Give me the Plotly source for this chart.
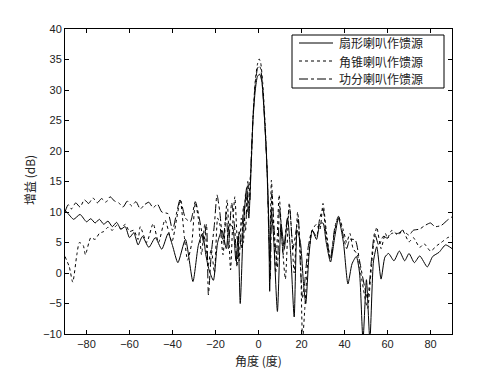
import plotly.graph_objects as go

# 扇形喇叭作馈源 (solid)
ang_s = [-90,-88,-86,-83,-80,-78,-76,-74,-72,-70,-68,-66,-64,-62,-60,-58,-56,-54,-51,-48,-45,-42,-40,-37.5,-34,-30.5,-28,-26,-24.5,-23,-21,-19,-17,-15,-13.5,-12,-10.5,-9.5,-8.5,-7,-5.5,-4.5,
         -3.5,-2.5,-1.5,-0.5,0.5,1.5,2.5,3.5,4.2,4.8,5.2,6,7,8.8,10.5,12,13.5,15,16.6,18,19.5,21,22,23.5,25,27,28.5,30,31.5,33.5,35.5,37.2,39.5,41.6,43.5,45.5,47,48.6,50.2,51.8,53.5,55,57,58.8,60.5,63,65.5,68,70,72.5,75,78.5,81,84,87,90]
gain_s = [10.3,9.5,8.8,9.6,8.4,8.9,8.2,8.8,8.0,8.5,7.6,8.3,7.2,7.6,5.8,6.6,4.6,6.0,4.2,5.8,3.9,6.5,4.5,1.7,5.5,-1.4,4.5,6.5,3.0,0.5,-1.2,5.0,7.0,4.0,8.0,7.5,2.0,6.0,-5.0,8.0,14.0,9.0,
          17.0,25.5,30.0,32.2,32.6,31.5,27.0,21.0,15.0,8.0,-3.0,10.0,6.0,-6.3,8.0,4.0,9.0,3.0,-7.2,7.0,5.0,-2.0,-5.0,3.0,7.0,5.5,8.0,8.2,5.0,1.8,6.0,9.0,5.0,-1.8,1.5,2.7,0.0,-11.0,-1.1,-11.0,2.0,4.3,-1.0,2.6,3.2,2.0,3.6,2.0,3.2,1.7,2.8,1.0,2.7,3.4,4.6,4.0]

# 角锥喇叭作馈源 (dotted)
ang_d = [-90,-88,-86.4,-84.5,-83.3,-81.5,-80.5,-78,-76,-74,-72,-70,-68,-66,-64,-62,-60,-58,-56,-55,-52,-49,-46.5,-43.5,-40.3,-38,-36.4,-34.5,-33,-31,-29.4,-28,-26.5,-25,-23.5,-22,-20.5,-19,-18,-16.5,-14.6,-13,-12,-11,-10,-9,-8,-7,-6,-5,-4,
         -3.5,-2.5,-1.5,-0.5,0.3,1,2,3,4,4.6,5.2,6,7,8,9.6,11,12.5,14.3,15.5,16.6,18.2,19.5,20.5,21.5,23,25,27,28.5,30,31.5,33.5,35.5,37.2,39.5,41,42.5,44,46,48,50.7,52.5,53.5,55,57,59,60,62,65,67,70,72,75,77,80,83,85,88,90]
gain_d = [2.7,1.0,-1.5,3.0,5.0,4.5,3.0,5.8,5.5,6.5,6.8,7.5,7.0,7.8,7.2,8.0,6.8,7.0,5.5,7.6,5.0,8.1,5.0,8.7,5.1,9.0,12.0,6.0,2.1,5.0,11.5,9.0,3.0,8.0,1.0,4.0,0.0,9.0,8.0,3.0,12.0,0.5,8.0,12.5,6.0,2.0,9.0,5.0,13.0,10.0,15.0,
          17.0,26.0,31.5,34.2,35.1,34.5,31.0,25.0,17.0,10.0,2.0,15.2,8.0,0.0,12.8,5.0,-1.0,11.5,6.0,0.0,10.0,3.0,-11.0,-6.0,2.0,7.0,8.0,7.0,11.4,7.0,2.2,7.0,9.2,7.0,5.0,6.5,4.0,3.0,-1.0,-5.8,1.0,4.6,7.5,4.0,6.5,5.7,7.0,6.2,7.0,5.1,5.8,4.2,4.8,3.6,4.5,5.0,5.8,6.0]

# 功分喇叭作馈源 (dash-dot)
ang_p = [-90,-88.5,-87,-85,-83,-81,-79,-77,-75,-73,-71,-69,-67,-65,-63,-61,-59,-57,-55,-53,-51,-49,-47,-45,-42,-40,-38,-36.4,-34,-31.7,-29.4,-27,-25.5,-24.2,-23.3,-22,-20.5,-19.3,-18,-16.5,-15,-14,-12.5,-11,-10,-9,-8,-7,-6,-5,-4,
         -3.5,-2.5,-1.5,-0.5,0.3,1,2,3,4,4.8,5.5,6.2,7.5,8.8,9.8,11.5,13,14.5,16,17.5,18.5,19.5,20.5,21.5,23,25,27,28.5,30,31.5,33.5,35.5,37.2,39.5,41,42.5,45,47,50.7,52.5,54,56,58,60,62,65,67,70,72,75,77,80,82,85,88,90]
gain_p = [10.0,11.2,10.5,11.5,10.8,12.0,11.4,12.3,11.5,12.2,11.6,12.5,11.8,11.5,10.8,11.8,11.0,11.7,10.5,11.2,11.6,10.7,11.3,10.0,9.7,7.0,10.0,12.1,9.0,8.4,11.7,8.0,5.0,8.0,-3.6,3.0,8.0,12.8,10.0,5.0,10.0,4.0,11.5,7.0,1.0,7.0,4.0,11.0,7.0,15.0,12.0,
          18.0,26.0,31.0,33.5,34.0,33.5,30.0,24.0,16.5,6.0,-1.0,13.0,6.0,1.0,11.0,3.0,8.0,10.5,4.0,7.0,9.0,1.0,-4.0,-1.5,4.0,7.0,6.0,9.0,10.5,6.0,2.5,7.5,9.3,6.0,4.0,5.5,5.4,2.0,-4.1,2.0,6.5,4.5,6.0,5.7,6.5,6.5,7.0,6.2,7.0,7.2,7.7,8.2,7.6,7.8,8.7,9.2]

names = ["扇形喇叭作馈源", "角锥喇叭作馈源", "功分喇叭作馈源"]
dashes = ["solid", "dot", "dashdot"]
x_ticks = [-80, -60, -40, -20, 0, 20, 40, 60, 80]
y_ticks = [-10, -5, 0, 5, 10, 15, 20, 25, 30, 35, 40]

# The page has an 8px body margin; work in page pixels and convert.
OFF = 8
W, H = 500, 375
L, R, T, B = 65 - OFF, 452 - OFF, 29 - OFF, 334 - OFF   # plot area in figure pixels
def px(xpage):
    return (xpage - OFF - L) / (R - L)
def py(ypage):
    return (B - (ypage - OFF)) / (B - T)

cjk = "Noto Sans CJK SC"
fig = go.Figure()
for xs, ys, nm, dash in zip([ang_s, ang_d, ang_p], [gain_s, gain_d, gain_p], names, dashes):
    fig.add_trace(go.Scatter(x=xs, y=ys, name=nm, mode="lines", showlegend=False,
                             line=dict(color="black", width=1, dash=dash,
                                       shape="spline", smoothing=0.6)))

axis_common = dict(showgrid=False, zeroline=False, showline=True, linecolor="black",
                   linewidth=1, mirror="ticks", ticks="inside", ticklen=4,
                   tickcolor="black", tickfont=dict(size=11, color="#222"),
                   automargin=False)
fig.update_xaxes(range=[-90, 90], tickvals=x_ticks, **axis_common)
fig.update_yaxes(range=[-10, 40], tickvals=y_ticks, **axis_common)

shapes = []
annotations = []
# axis titles
annotations.append(dict(xref="paper", yref="paper", x=px(258), y=py(360), text="角度 (度)",
                        showarrow=False, font=dict(size=12, family=cjk, color="#222"),
                        xanchor="center", yanchor="middle"))
annotations.append(dict(xref="paper", yref="paper", x=px(30), y=py(180), text="增益 (dB)",
                        showarrow=False, textangle=-90, font=dict(size=12, family=cjk, color="#222"),
                        xanchor="center", yanchor="middle"))
# legend box
shapes.append(dict(type="rect", xref="paper", yref="paper", x0=px(292), x1=px(444),
                   y0=py(88), y1=py(35), line=dict(color="black", width=1), fillcolor="white",
                   layer="above"))
rows = [43, 61, 79]
for yrow, nm, dash in zip(rows, names, dashes):
    shapes.append(dict(type="line", xref="paper", yref="paper", x0=px(299), x1=px(333),
                       y0=py(yrow), y1=py(yrow), line=dict(color="black", width=1, dash=dash),
                       layer="above"))
    annotations.append(dict(xref="paper", yref="paper", x=px(338), y=py(yrow), text=nm,
                            showarrow=False, xanchor="left", yanchor="middle", borderpad=0,
                            font=dict(size=12, family=cjk, color="#222")))

fig.update_layout(
    width=W, height=H,
    margin=dict(l=L, r=W - R, t=T, b=H - B),
    paper_bgcolor="white", plot_bgcolor="white",
    font=dict(family="Liberation Sans, Arial", color="#222"),
    shapes=shapes, annotations=annotations,
    showlegend=False,
)
fig.write_html("out.html")
